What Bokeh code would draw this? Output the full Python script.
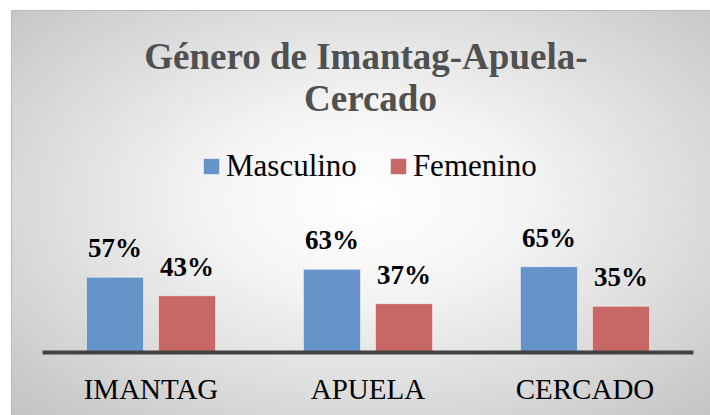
from bokeh.plotting import figure
from bokeh.models import FactorRange, Range1d, Label, Legend, LegendItem, ColumnDataSource
from bokeh.transform import dodge
from bokeh.core.properties import value
from bokeh.embed import file_html
from bokeh.resources import INLINE

# ---- data ----
categories = ["IMANTAG", "APUELA", "CERCADO"]
masculino = [57, 63, 65]
femenino = [43, 37, 35]
series_names = ["Masculino", "Femenino"]
title_lines = ["Género de  Imantag-Apuela-", "Cercado"]

BLUE = "#6693c8"
RED = "#c86866"
SERIF = "Liberation Serif"

src = ColumnDataSource(dict(
    cat=categories, m=masculino, f=femenino,
    m_lbl=[f"{v}%" for v in masculino],
    f_lbl=[f"{v}%" for v in femenino],
))

W, H = 699, 405
FRAME_H = 342
PX_PER_PCT = 1.32

p = figure(width=W, height=H,
           x_range=FactorRange(*categories),
           y_range=Range1d(0, FRAME_H / PX_PER_PCT),
           output_backend="svg", toolbar_location=None,
           min_border_left=31, min_border_right=17,
           min_border_top=0, min_border_bottom=H - FRAME_H)

p.background_fill_alpha = 0
p.border_fill_alpha = 0
p.outline_line_color = None
p.xgrid.visible = False
p.ygrid.visible = False
p.yaxis.visible = False

p.styles = {
    "position": "absolute",
    "left": "11px",
    "top": "10px",
    "white-space": "pre",
    "background": "radial-gradient(ellipse farthest-corner at 51% 47%, #ffffff 0%, #f5f5f5 30%, #c3c3c3 100%)",
    "box-shadow": "inset 1px 1px 0 #b9b9b9",
}

OFF = 0.166
BW = 0.263
rm = p.vbar(x=dodge("cat", -OFF, range=p.x_range), top="m", width=BW, source=src,
            fill_color=BLUE, line_color="white", line_alpha=0.5, line_width=1)
rf = p.vbar(x=dodge("cat", OFF, range=p.x_range), top="f", width=BW, source=src,
            fill_color=RED, line_color="white", line_alpha=0.5, line_width=1)

for col, lbl, off in (("m", "m_lbl", -OFF), ("f", "f_lbl", OFF)):
    p.text(x=dodge("cat", off, range=p.x_range), y=col, text=lbl, source=src,
           text_align="center", text_baseline="alphabetic", y_offset=-29,
           text_font=value(SERIF), text_font_style="bold",
           text_font_size="27px", text_color="black")

ax = p.xaxis[0]
ax.axis_line_color = "#424242"
ax.axis_line_width = 4
ax.major_tick_line_color = None
ax.minor_tick_line_color = None
ax.major_tick_out = 0
ax.major_tick_in = 0
ax.minor_tick_out = 0
ax.minor_tick_in = 0
ax.major_label_standoff = 20
ax.major_label_text_font = SERIF
ax.major_label_text_font_size = "29px"
ax.major_label_text_color = "black"

for line, yy in zip(title_lines, [296, 254]):
    p.add_layout(Label(x=328, y=yy, x_units="screen", y_units="screen", text=line,
                       text_align="center", text_baseline="alphabetic",
                       text_font=SERIF, text_font_style="bold",
                       text_font_size="37px", text_color="#505050"))

legend = Legend(items=[LegendItem(label=value(series_names[0]), renderers=[rm]),
                       LegendItem(label=value(series_names[1]), renderers=[rf])],
                orientation="horizontal", location=(159, 168),
                glyph_width=20, glyph_height=20, label_standoff=5, spacing=31,
                padding=0, margin=0,
                label_text_font=SERIF, label_text_font_size="31px",
                label_text_color="black",
                border_line_color=None, background_fill_alpha=0)
p.add_layout(legend)

open("out.html", "w").write(file_html(p, INLINE))
